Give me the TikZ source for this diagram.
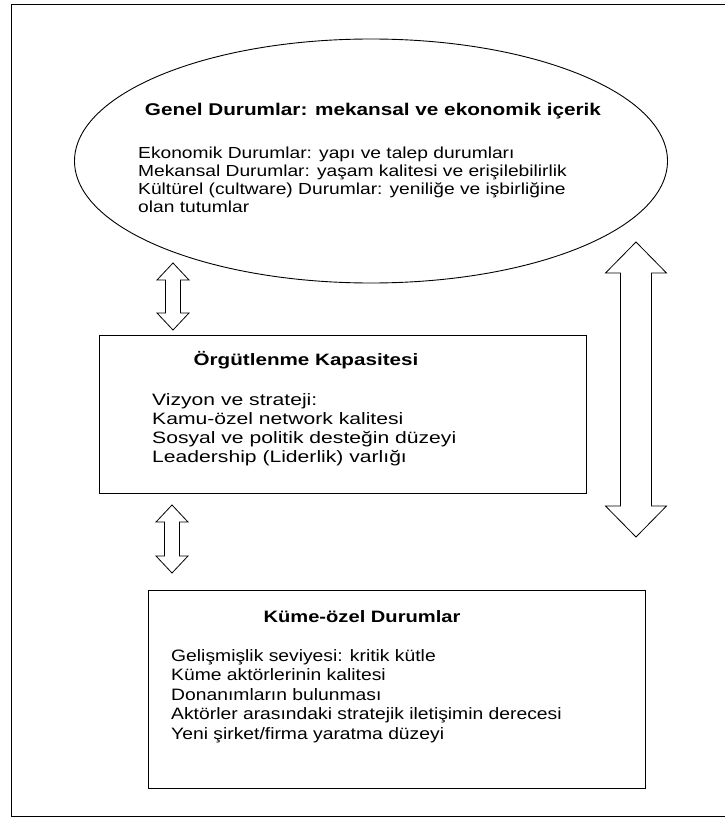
\documentclass[tikz,border=0pt]{standalone}
\usepackage{fontspec}
\setmainfont{Liberation Sans}
\usepackage{tikz}
\usetikzlibrary{shapes.geometric,positioning}

% fat two-way arrow: name, x, top, bottom, head half width, shaft half width, head length
\newcommand{\twoway}[7]{%
  \coordinate (#1) at (#2,{(#3+#4)/2});
  \draw[fatarrow] (#2,#3) -- ({#2+#5},{#3+#7}) -- ({#2+#6},{#3+#7})
    -- ({#2+#6},{#4-#7}) -- ({#2+#5},{#4-#7}) -- (#2,#4)
    -- ({#2-#5},{#4-#7}) -- ({#2-#6},{#4-#7}) -- ({#2-#6},{#3+#7})
    -- ({#2-#5},{#3+#7}) -- cycle;}
% wide scanned lettering
\newcommand{\wide}[3]{\fontsize{#1}{#2}\selectfont\addfontfeatures{FakeStretch=#3}}

\begin{document}
\begin{tikzpicture}[x=1pt, y=-1pt,
  frame/.style={line width=0.9pt},
  part/.style={draw, line width=0.9pt, inner sep=0pt},
  head/.style={inner sep=0pt},
  items/.style={align=left, inner sep=0pt, anchor=north west},
  fatarrow/.style={draw, line width=0.8pt, fill=white, line join=miter}
]
\useasboundingbox (0,0) rectangle (725,824);

% outer frame (right side runs off the page)
\draw[frame] (726,4) -- (11,4) -- (11,816) -- (726,816);

% general conditions
\node[part, ellipse, minimum width=593, minimum height=244] (genel) at (371,161) {};
\node[head, font=\wide{17}{18}{1.22}\bfseries] (genelhead) at (373,111) {Genel Durumlar: mekansal ve ekonomik içerik};
\node[items, font=\wide{16}{18}{1.2}] (genelbody) at (138,147) {Ekonomik Durumlar: yapı ve talep durumları\\
  Mekansal Durumlar: yaşam kalitesi ve erişilebilirlik\\
  Kültürel (cultware) Durumlar: yeniliğe ve işbirliğine\\
  olan tutumlar};

% organising capacity
\node[part, rectangle, minimum width=487, minimum height=158] (orgut) at (342.5,414) {};
\node[head, font=\wide{16.5}{19}{1.25}\bfseries] (orguthead) at (306,360) {Örgütlenme Kapasitesi};
\node[items, font=\wide{16.5}{19}{1.28}] (orgutbody) at (152,393) {Vizyon ve strateji:\\
  Kamu-özel network kalitesi\\
  Sosyal ve politik desteğin düzeyi\\
  Leadership (Liderlik) varlığı};

% cluster specific conditions
\node[part, rectangle, minimum width=497, minimum height=198] (kume) at (396.5,689) {};
\node[head, font=\wide{16.5}{19}{1.22}\bfseries] (kumehead) at (362,617) {Küme-özel Durumlar};
\node[items, font=\wide{16.5}{19.5}{1.17}] (kumebody) at (171,649) {Gelişmişlik seviyesi: kritik kütle\\
  Küme aktörlerinin kalitesi\\
  Donanımların bulunması\\
  Aktörler arasındaki stratejik iletişimin derecesi\\
  Yeni şirket/firma yaratma düzeyi};

% two-way arrows
\twoway{genelorgut}{173}{263}{330}{16}{7.5}{17}
\twoway{orgutkume}{172}{505}{573}{16}{7.5}{17}
\twoway{genelkume}{636}{242}{537}{30.5}{15.5}{31}

\end{tikzpicture}
\end{document}
